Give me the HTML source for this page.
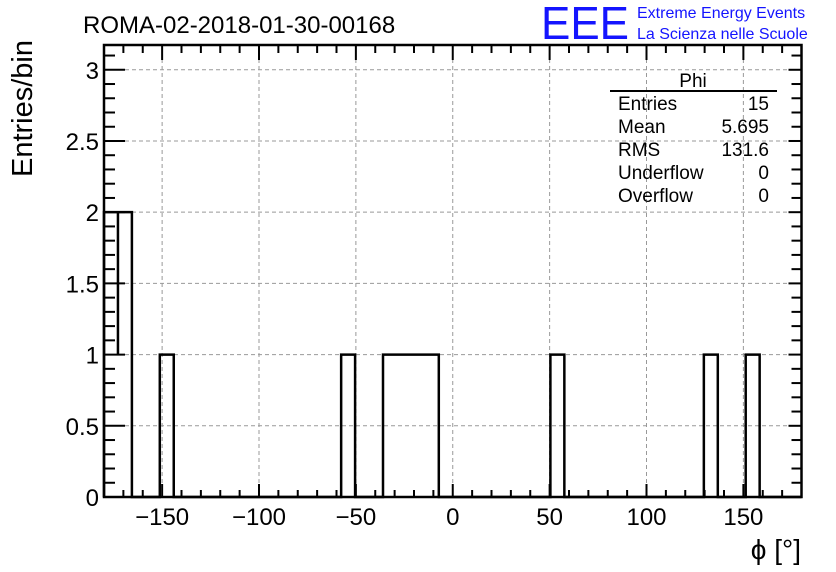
<!DOCTYPE html>
<html><head><meta charset="utf-8"><style>
html,body{margin:0;padding:0;background:#fff}
svg{display:block;font-family:"Liberation Sans",sans-serif}
</style></head><body>
<svg id="chart" width="836" height="572" viewBox="0 0 836 572" xmlns="http://www.w3.org/2000/svg">
<rect width="836" height="572" fill="#fff"/>
<text x="83" y="33" font-size="24">ROMA-02-2018-01-30-00168</text>
<text x="541" y="39" font-size="46" fill="#1414ff" textLength="88" lengthAdjust="spacingAndGlyphs">EEE</text>
<text x="637" y="18" font-size="16" fill="#1414ff">Extreme Energy Events</text>
<text x="637" y="39" font-size="16" fill="#1414ff">La Scienza nelle Scuole</text>
<g id="grid"></g>
<g id="bars"></g>
<g id="axes"></g>
<text transform="translate(32,40) rotate(-90)" text-anchor="end" font-size="29">Entries/bin</text>
<text x="801" y="559" text-anchor="end" font-size="28">ϕ [°]</text>
<g font-size="19">
<text x="693" y="87" text-anchor="middle">Phi</text>
<line x1="610" y1="91" x2="777" y2="91" stroke="#000" stroke-width="2"/>
<text x="618" y="110">Entries</text><text x="769" y="110" text-anchor="end">15</text>
<text x="618" y="133">Mean</text><text x="769" y="133" text-anchor="end">5.695</text>
<text x="618" y="156">RMS</text><text x="769" y="156" text-anchor="end">131.6</text>
<text x="618" y="179">Underflow</text><text x="769" y="179" text-anchor="end">0</text>
<text x="618" y="202">Overflow</text><text x="769" y="202" text-anchor="end">0</text>
</g>
</svg>
<script>
const binEdgesStart = -180;
const binWidth = 7.2;
const binCounts = [2,2,0,0,1,0,0,0,0,0,0,0,0,0,0,0,0,1,0,0,1,1,1,1,0,0,0,0,0,0,0,0,1,0,0,0,0,0,0,0,0,0,0,1,0,0,1,0,0,0];
const xTicks = [-150,-100,-50,0,50,100,150];
const xTickLabels = ["\u2212150","\u2212100","\u221250","0","50","100","150"];
const yTicks = [0,0.5,1,1.5,2,2.5,3];
const yTickLabels = ["0","0.5","1","1.5","2","2.5","3"];
const X0=104,X1=801.5,Y0=497,YT=45,xmin=-180,xmax=180,ymax=3.174;
const xs=v=>X0+(v-xmin)/(xmax-xmin)*(X1-X0);
const ys=v=>Y0-v/ymax*(Y0-YT);
const NS="http://www.w3.org/2000/svg";
function mk(tag,attrs,parent){const e=document.createElementNS(NS,tag);for(const k in attrs)e.setAttribute(k,attrs[k]);parent.appendChild(e);return e;}
const grid=document.getElementById('grid'),bars=document.getElementById('bars'),axes=document.getElementById('axes');
xTicks.forEach(v=>{const l=mk('line',{x1:xs(v),x2:xs(v),y1:YT,y2:Y0,stroke:'#999','stroke-width':1,'stroke-dasharray':'4,3'},grid);

});
yTicks.forEach(v=>{const l=mk('line',{x1:X0,x2:X1,y1:ys(v),y2:ys(v),stroke:'#999','stroke-width':1,'stroke-dasharray':'4,3'},grid);

});
let d='',prev=0;
binCounts.forEach((c,i)=>{const xa=xs(binEdgesStart+i*binWidth);
 if(i===0){d+=`M${xa},${ys(0)}`;}
 if(c!==prev||i===0){d+=` L${xa},${ys(c)}`;}
 const xb=xs(binEdgesStart+(i+1)*binWidth);d+=` L${xb},${ys(c)}`;prev=c;});
d+=` L${xs(xmax)},${ys(0)}`;
const p=mk('path',{d:d,fill:'none',stroke:'#000','stroke-width':2.5},bars);


binCounts.forEach((c,i)=>{if(i>0&&c>1&&binCounts[i-1]===c){const r=mk('line',{x1:xs(binEdgesStart+i*binWidth),x2:xs(binEdgesStart+i*binWidth),y1:ys(c),y2:ys(c-1),stroke:'#000','stroke-width':2.5},bars);

}});
const f=mk('rect',{x:X0,y:YT,width:X1-X0,height:Y0-YT,fill:'none',stroke:'#000','stroke-width':2.5},axes);


for(let v=-170;v<=170;v+=10){const maj=v%50===0;const L=maj?13:7;
 mk('line',{x1:xs(v),x2:xs(v),y1:Y0,y2:Y0-L,stroke:'#000','stroke-width':2},axes);
 mk('line',{x1:xs(v),x2:xs(v),y1:YT,y2:YT+(maj?15:8),stroke:'#000','stroke-width':2},axes);}
for(let k=0;k<=31;k++){const v=k*0.1;const maj=k%5===0;
 mk('line',{x1:X0,x2:X0+(maj?21:11),y1:ys(v),y2:ys(v),stroke:'#000','stroke-width':2},axes);
 mk('line',{x1:X1,x2:X1-(maj?13:10),y1:ys(v),y2:ys(v),stroke:'#000','stroke-width':2},axes);}
xTicks.forEach((v,i)=>{const t=mk('text',{x:xs(v),y:525,'text-anchor':'middle','font-size':24},axes);t.textContent=xTickLabels[i];

});
yTicks.forEach((v,i)=>{const t=mk('text',{x:99,y:ys(v)+9,'text-anchor':'end','font-size':24},axes);t.textContent=yTickLabels[i];

});
</script>
</body></html>
